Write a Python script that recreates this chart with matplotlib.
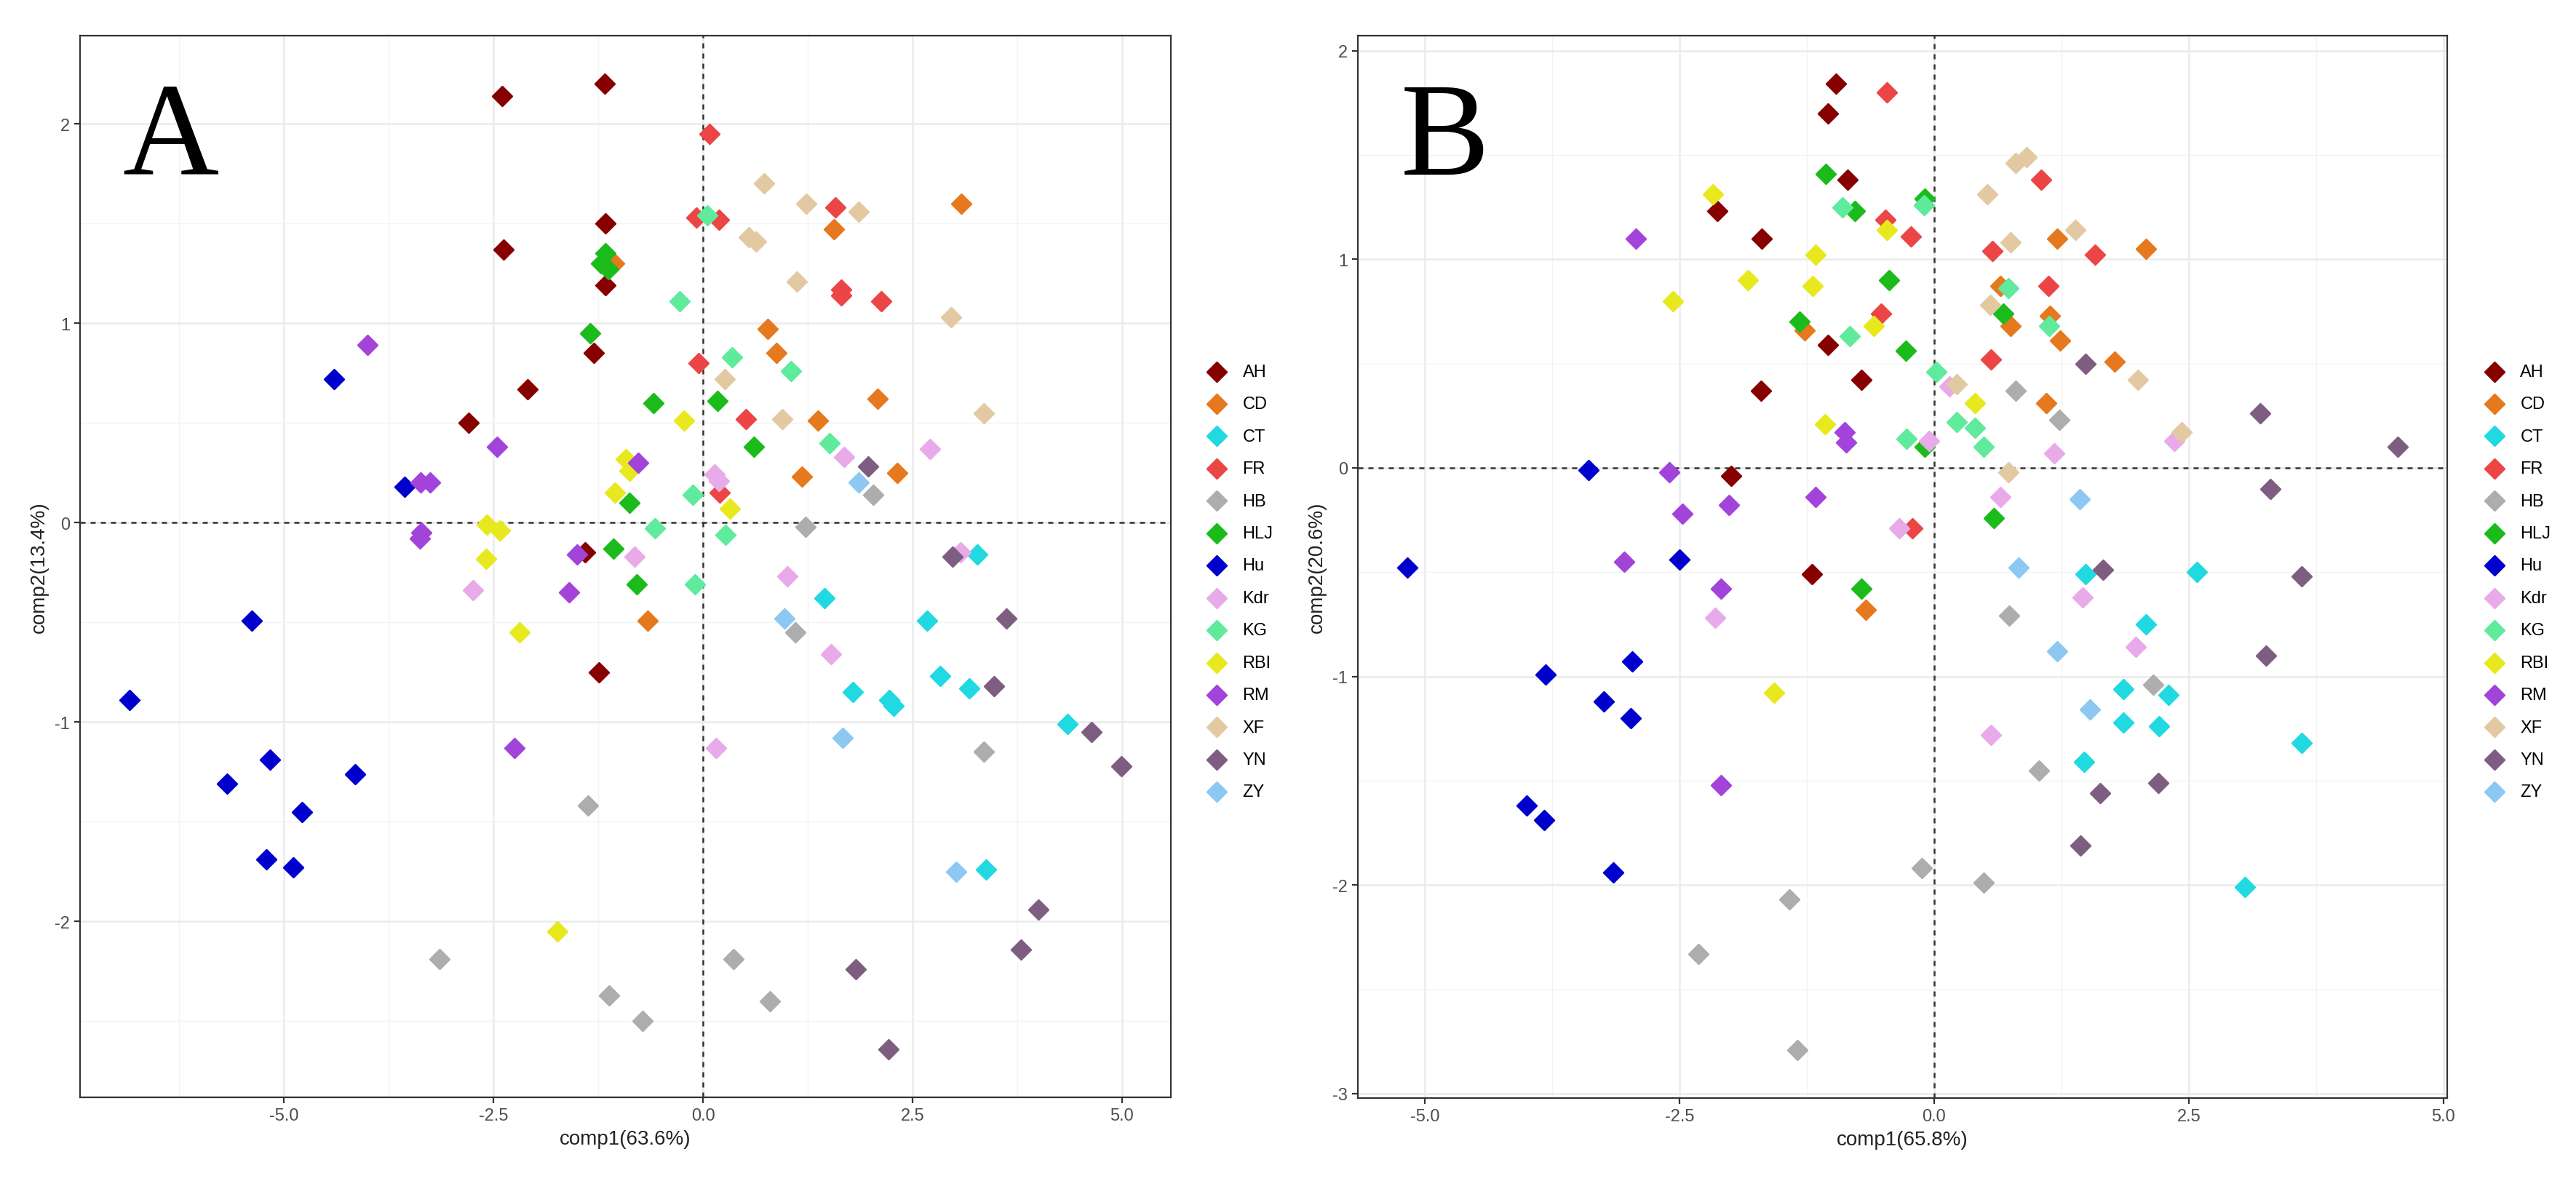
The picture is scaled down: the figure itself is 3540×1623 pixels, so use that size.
import matplotlib.pyplot as plt
from matplotlib.ticker import MultipleLocator, FormatStrFormatter

groups = ['AH', 'CD', 'CT', 'FR', 'HB', 'HLJ', 'Hu', 'Kdr', 'KG', 'RBI', 'RM', 'XF', 'YN', 'ZY']
colors = ['#870000', '#E6781E', '#21D9E0', '#EB4545', '#ADADAD', '#1CBB1C', '#0000CD',
          '#E9AAE9', '#60EA9C', '#E8E81E', '#A243DA', '#E3C9A2', '#7E5E80', '#8CC8F2']

# panel A scores (comp1, comp2)
a_x = {
    'AH': [-1.17, -2.40, -1.16, -2.38, -1.16, -1.30, -2.09, -2.80, -1.41, -1.24],
    'CD': [3.08, 1.56, -1.06, 0.77, 0.88, 2.08, 1.37, 2.32, 1.18, -0.66],
    'CT': [3.27, 1.45, 2.67, 2.83, 3.18, 1.79, 2.22, 2.27, 4.35, 3.38],
    'FR': [0.08, 1.58, -0.08, 0.19, 1.65, 1.65, 2.13, -0.05, 0.51, 0.20],
    'HB': [2.03, 1.22, 1.10, 3.35, -1.37, -3.14, 0.36, -1.12, 0.80, -0.72],
    'HLJ': [-1.16, -1.22, -1.13, -1.35, -0.59, 0.17, 0.61, -0.88, -1.07, -0.79],
    'Hu': [-4.40, -3.56, -5.38, -6.84, -5.17, -5.68, -4.15, -4.78, -5.21, -4.89],
    'Kdr': [3.07, 2.71, 1.68, 0.14, 0.19, -0.82, 1.01, -2.74, 1.53, 0.16],
    'KG': [0.05, -0.28, 0.35, 1.05, 1.51, -0.12, -0.57, 0.27, -0.10],
    'RBI': [-0.23, -0.92, -0.88, -1.05, 0.32, -2.58, -2.42, -2.59, -2.19, -1.74],
    'RM': [-4.00, -2.46, -0.77, -3.37, -3.26, -3.36, -3.38, -1.50, -1.60, -2.25],
    'XF': [0.73, 1.23, 1.86, 0.55, 0.63, 1.12, 2.96, 0.26, 0.95, 3.35],
    'YN': [1.97, 2.98, 3.62, 3.47, 4.64, 4.99, 4.00, 3.79, 1.82, 2.21],
    'ZY': [1.86, 0.97, 1.67, 3.02],
}
a_y = {
    'AH': [2.20, 2.14, 1.50, 1.37, 1.19, 0.85, 0.67, 0.50, -0.15, -0.75],
    'CD': [1.60, 1.47, 1.30, 0.97, 0.85, 0.62, 0.51, 0.25, 0.23, -0.49],
    'CT': [-0.16, -0.38, -0.49, -0.77, -0.83, -0.85, -0.89, -0.92, -1.01, -1.74],
    'FR': [1.95, 1.58, 1.53, 1.52, 1.17, 1.14, 1.11, 0.80, 0.52, 0.15],
    'HB': [0.14, -0.02, -0.55, -1.15, -1.42, -2.19, -2.19, -2.37, -2.40, -2.50],
    'HLJ': [1.35, 1.30, 1.27, 0.95, 0.60, 0.61, 0.38, 0.10, -0.13, -0.31],
    'Hu': [0.72, 0.18, -0.49, -0.89, -1.19, -1.31, -1.26, -1.45, -1.69, -1.73],
    'Kdr': [-0.15, 0.37, 0.33, 0.24, 0.21, -0.17, -0.27, -0.34, -0.66, -1.13],
    'KG': [1.54, 1.11, 0.83, 0.76, 0.40, 0.14, -0.03, -0.06, -0.31],
    'RBI': [0.51, 0.32, 0.26, 0.15, 0.07, -0.01, -0.04, -0.18, -0.55, -2.05],
    'RM': [0.89, 0.38, 0.30, 0.20, 0.20, -0.05, -0.08, -0.16, -0.35, -1.13],
    'XF': [1.70, 1.60, 1.56, 1.43, 1.41, 1.21, 1.03, 0.72, 0.52, 0.55],
    'YN': [0.28, -0.17, -0.48, -0.82, -1.05, -1.22, -1.94, -2.14, -2.24, -2.64],
    'ZY': [0.20, -0.48, -1.08, -1.75],
}

# panel B scores (comp1, comp2)
b_x = {
    'AH': [-0.96, -1.04, -0.85, -2.13, -1.69, -1.04, -0.71, -1.70, -1.99, -1.20],
    'CD': [1.21, 2.08, 0.65, 1.14, 0.75, 1.24, 1.77, 1.10, -1.27, -0.67],
    'CT': [1.49, 2.58, 2.08, 1.86, 2.30, 1.86, 2.21, 3.61, 1.47, 3.05],
    'FR': [-0.46, -0.48, -0.23, -0.52, 1.05, 0.57, 1.58, 1.12, 0.56, -0.21],
    'HB': [0.80, 1.23, 0.74, 2.15, 1.03, -0.12, 0.49, -1.42, -2.31, -1.34],
    'HLJ': [-1.06, -0.78, -0.09, -0.44, -1.32, 0.68, -0.28, -0.09, 0.59, -0.71],
    'Hu': [-3.39, -2.50, -5.17, -2.96, -3.81, -3.24, -2.98, -4.00, -3.83, -3.15],
    'Kdr': [0.15, 2.36, -0.05, 1.18, 0.65, -0.34, 1.46, -2.15, 1.98, 0.56],
    'KG': [-0.90, -0.10, 0.73, 1.13, -0.83, 0.02, 0.22, 0.40, -0.27, 0.49],
    'RBI': [-2.17, -0.46, -1.16, -1.83, -1.19, -2.56, -0.59, 0.40, -1.07, -1.57],
    'RM': [-2.93, -0.88, -0.86, -2.60, -1.16, -2.01, -2.47, -3.04, -2.09, -2.09],
    'XF': [0.91, 0.80, 0.52, 1.39, 0.75, 0.55, 2.00, 0.22, 2.43, 0.73],
    'YN': [1.49, 3.20, 4.55, 3.30, 1.66, 3.61, 3.26, 2.20, 1.63, 1.44],
    'ZY': [1.43, 0.83, 1.21, 1.53],
}
b_y = {
    'AH': [1.84, 1.70, 1.38, 1.23, 1.10, 0.59, 0.42, 0.37, -0.04, -0.51],
    'CD': [1.10, 1.05, 0.87, 0.73, 0.68, 0.61, 0.51, 0.31, 0.66, -0.68],
    'CT': [-0.51, -0.50, -0.75, -1.06, -1.09, -1.22, -1.24, -1.32, -1.41, -2.01],
    'FR': [1.80, 1.19, 1.11, 0.74, 1.38, 1.04, 1.02, 0.87, 0.52, -0.29],
    'HB': [0.37, 0.23, -0.71, -1.04, -1.45, -1.92, -1.99, -2.07, -2.33, -2.79],
    'HLJ': [1.41, 1.23, 1.29, 0.90, 0.70, 0.74, 0.56, 0.10, -0.24, -0.58],
    'Hu': [-0.01, -0.44, -0.48, -0.93, -0.99, -1.12, -1.20, -1.62, -1.69, -1.94],
    'Kdr': [0.39, 0.13, 0.13, 0.07, -0.14, -0.29, -0.62, -0.72, -0.86, -1.28],
    'KG': [1.25, 1.26, 0.86, 0.68, 0.63, 0.46, 0.22, 0.19, 0.14, 0.10],
    'RBI': [1.31, 1.14, 1.02, 0.90, 0.87, 0.80, 0.68, 0.31, 0.21, -1.08],
    'RM': [1.10, 0.17, 0.12, -0.02, -0.14, -0.18, -0.22, -0.45, -0.58, -1.52],
    'XF': [1.49, 1.46, 1.31, 1.14, 1.08, 0.78, 0.42, 0.40, 0.17, -0.02],
    'YN': [0.50, 0.26, 0.10, -0.10, -0.49, -0.52, -0.90, -1.51, -1.56, -1.81],
    'ZY': [-0.15, -0.48, -0.88, -1.16],
}

plt.rcParams['font.family'] = ['Liberation Sans', 'DejaVu Sans']
plt.rcParams['axes.unicode_minus'] = False

fig = plt.figure(figsize=(17.7, 8.12), dpi=200)


def panel(rect, xs, ys, letter, xlabel, ylabel, legend_x):
    ax = fig.add_axes(rect)
    for g, c in zip(groups, colors):
        ax.scatter(xs[g], ys[g], marker='D', s=48, color=c, edgecolors=c,
                   linewidths=0.8, label=g, zorder=3)
    ax.margins(0.05)
    ax.axhline(0, color='#333333', lw=0.9, ls=(0, (2.8, 2.8)), zorder=2)
    ax.axvline(0, color='#333333', lw=0.9, ls=(0, (2.8, 2.8)), zorder=2)

    ax.xaxis.set_major_locator(MultipleLocator(2.5))
    ax.xaxis.set_minor_locator(MultipleLocator(1.25))
    ax.yaxis.set_major_locator(MultipleLocator(1))
    ax.yaxis.set_minor_locator(MultipleLocator(0.5))
    ax.xaxis.set_major_formatter(FormatStrFormatter('%.1f'))
    ax.yaxis.set_major_formatter(FormatStrFormatter('%d'))
    ax.grid(which='major', color='#EBEBEB', lw=0.9)
    ax.grid(which='minor', color='#F3F3F3', lw=0.5)
    ax.set_axisbelow(True)
    ax.tick_params(which='minor', length=0)
    ax.tick_params(which='major', length=2.75, width=0.8, color='#333333',
                   labelcolor='#4D4D4D', labelsize=8.5, pad=2.2)
    for s in ax.spines.values():
        s.set_color('#333333')
        s.set_linewidth(0.8)

    ax.set_xlabel(xlabel, fontsize=10, labelpad=3, color='#222222')
    ax.set_ylabel(ylabel, fontsize=10, labelpad=3, color='#222222')
    ax.text(0.039, 0.87, letter, transform=ax.transAxes, fontsize=66,
            family='Liberation Serif', va='baseline', ha='left', zorder=4)

    handles, labels = ax.get_legend_handles_labels()
    fig.legend(handles, labels, loc='center left', bbox_to_anchor=(legend_x, 0.507),
               frameon=False, fontsize=8.5, handlelength=1.0, handletextpad=1.0,
               labelspacing=0.95, borderpad=0, borderaxespad=0, scatterpoints=1)
    return ax


panel([0.0311, 0.0708, 0.4234, 0.8984], a_x, a_y, 'A',
      'comp1(63.6%)', 'comp2(13.4%)', 0.469)
panel([0.5271, 0.0702, 0.4229, 0.8990], b_x, b_y, 'B',
      'comp1(65.8%)', 'comp2(20.6%)', 0.965)

fig.savefig('out.png', dpi=200, facecolor='white')
